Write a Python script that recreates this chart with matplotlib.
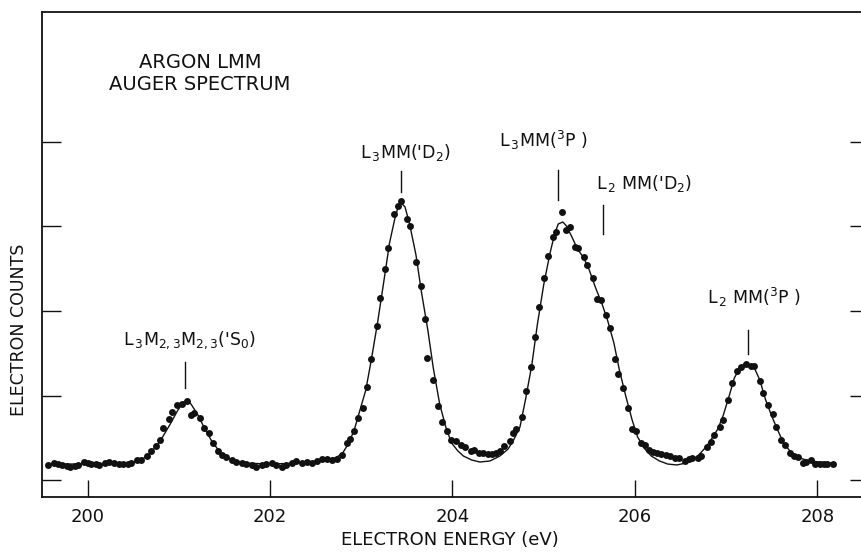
import matplotlib
matplotlib.use("Agg")
import matplotlib.pyplot as plt
from matplotlib.lines import Line2D

# ---- data (electron energy in eV, counts in arbitrary units; 100 per y tick) ----
dot_energy = [199.57, 199.63, 199.67, 199.72, 199.77, 199.81, 199.86, 199.90, 199.96, 200.00,
              200.04, 200.09, 200.13, 200.19, 200.24, 200.29, 200.34, 200.39, 200.44, 200.48,
              200.54, 200.59, 200.65, 200.69, 200.75, 200.79, 200.83, 200.89, 200.93, 200.98,
              201.03, 201.09, 201.13, 201.17, 201.23, 201.28, 201.33, 201.37, 201.43, 201.47,
              201.52, 201.58, 201.63, 201.69, 201.74, 201.80, 201.85, 201.91, 201.96, 202.02,
              202.07, 202.13, 202.18, 202.24, 202.29, 202.35, 202.40, 202.46, 202.51, 202.57,
              202.62, 202.68, 202.73, 202.79, 202.84, 202.88, 202.92, 202.96, 203.02, 203.06,
              203.11, 203.17, 203.21, 203.26, 203.29, 203.36, 203.40, 203.44, 203.50, 203.54,
              203.60, 203.65, 203.70, 203.72, 203.79, 203.84, 203.89, 203.94, 203.98, 204.04,
              204.09, 204.14, 204.20, 204.24, 204.29, 204.33, 204.39, 204.43, 204.48, 204.52,
              204.56, 204.63, 204.66, 204.70, 204.76, 204.81, 204.86, 204.91, 204.95, 205.00,
              205.05, 205.10, 205.14, 205.20, 205.24, 205.29, 205.34, 205.38, 205.44, 205.48,
              205.54, 205.58, 205.63, 205.68, 205.73, 205.78, 205.82, 205.87, 205.92, 205.97,
              206.01, 206.07, 206.11, 206.15, 206.20, 206.24, 206.29, 206.34, 206.39, 206.44,
              206.48, 206.55, 206.59, 206.63, 206.69, 206.73, 206.79, 206.83, 206.87, 206.93,
              206.97, 207.02, 207.07, 207.12, 207.16, 207.22, 207.27, 207.31, 207.37, 207.40,
              207.46, 207.51, 207.55, 207.60, 207.65, 207.70, 207.74, 207.79, 207.84, 207.88,
              207.93, 207.98, 208.03, 208.07, 208.11, 208.17]
dot_counts = [17.8, 20.1, 18.9, 17.8, 16.6, 15.4, 16.6, 17.8, 21.3, 20.1,
              18.9, 18.9, 17.8, 20.1, 21.3, 20.1, 18.9, 18.9, 18.9, 20.1,
              23.7, 23.7, 28.4, 34.3, 40.2, 47.3, 61.5, 72.2, 80.5, 88.8,
              89.9, 93.5, 76.9, 79.3, 73.4, 61.5, 55.6, 43.8, 34.3, 29.6,
              27.2, 23.7, 21.3, 20.1, 18.9, 17.8, 15.4, 17.8, 18.9, 20.1,
              17.8, 15.4, 17.8, 20.1, 22.5, 20.1, 21.3, 20.1, 22.5, 24.9,
              24.9, 23.7, 24.9, 29.6, 43.8, 48.5, 58.0, 73.4, 85.2, 110.1,
              143.2, 182.2, 215.4, 249.7, 274.5, 314.8, 324.3, 330.2, 308.9, 300.6,
              258.0, 229.6, 190.5, 144.4, 118.3, 87.6, 68.6, 58.0, 47.3, 46.2,
              41.4, 39.1, 34.3, 35.5, 32.0, 32.0, 30.8, 30.8, 32.0, 34.3,
              40.2, 46.2, 55.6, 60.4, 74.6, 105.3, 133.7, 169.2, 204.7, 239.0,
              265.1, 287.6, 293.5, 317.2, 295.9, 299.4, 275.7, 274.5, 263.9, 254.4,
              239.0, 214.2, 213.0, 195.3, 179.9, 143.2, 125.4, 108.9, 85.2, 60.4,
              58.0, 43.8, 41.4, 35.5, 33.1, 32.0, 30.8, 29.6, 28.4, 26.0,
              26.0, 22.5, 24.9, 26.0, 26.0, 28.4, 39.1, 45.0, 53.3, 62.7,
              71.0, 94.7, 114.8, 129.0, 133.7, 137.3, 134.9, 134.9, 117.2, 103.0,
              88.8, 78.1, 62.7, 47.3, 41.4, 32.0, 28.4, 27.2, 20.1, 21.3,
              23.7, 18.9, 18.9, 18.9, 18.9, 18.9]

fit_energy = [199.57, 199.91, 200.24, 200.46, 200.57, 200.68, 200.79, 200.90, 200.99, 201.05,
              201.10, 201.14, 201.21, 201.28, 201.36, 201.45, 201.56, 201.72, 202.00, 202.32,
              202.54, 202.71, 202.79, 202.85, 202.92, 202.98, 203.05, 203.11, 203.18, 203.25,
              203.31, 203.37, 203.41, 203.44, 203.48, 203.53, 203.60, 203.66, 203.73, 203.79,
              203.86, 203.93, 203.99, 204.06, 204.12, 204.21, 204.30, 204.41, 204.52, 204.61,
              204.67, 204.74, 204.80, 204.87, 204.93, 205.00, 205.07, 205.12, 205.16, 205.21,
              205.25, 205.31, 205.37, 205.44, 205.50, 205.57, 205.64, 205.70, 205.77, 205.83,
              205.90, 205.97, 206.03, 206.11, 206.18, 206.27, 206.36, 206.46, 206.56, 206.65,
              206.71, 206.78, 206.84, 206.91, 206.97, 207.04, 207.09, 207.15, 207.20, 207.26,
              207.31, 207.37, 207.43, 207.50, 207.57, 207.63, 207.70, 207.76, 207.84, 207.92,
              208.03, 208.17]
fit_counts = [18.9, 18.9, 18.9, 20.1, 22.5, 30.8, 45.0, 65.1, 82.8, 92.3,
              94.7, 88.8, 76.9, 61.5, 46.2, 33.1, 24.9, 20.1, 18.9, 20.1,
              22.5, 26.0, 30.8, 41.4, 58.0, 80.5, 106.5, 142.0, 187.0, 236.7,
              280.5, 310.1, 325.4, 327.8, 323.1, 303.0, 266.3, 222.5, 177.5, 132.5,
              89.9, 61.5, 43.8, 34.3, 28.4, 23.7, 21.3, 22.5, 28.4, 36.7,
              47.3, 62.7, 94.7, 136.1, 183.4, 230.8, 268.6, 291.1, 303.0, 305.3,
              300.6, 287.6, 273.4, 262.7, 248.5, 227.2, 208.3, 189.3, 162.1, 130.2,
              99.4, 71.0, 50.9, 36.7, 28.4, 22.5, 18.9, 17.8, 20.1, 24.9,
              30.8, 39.1, 48.5, 60.4, 76.9, 101.8, 120.7, 132.5, 137.3, 136.1,
              132.5, 118.3, 95.9, 75.7, 58.0, 43.8, 34.3, 28.4, 24.9, 22.5,
              21.3, 20.1]

x_ticks = [200, 202, 204, 206, 208]
x_ticklabels = ["200", "202", "204", "206", "208"]
y_ticks = [0, 100, 200, 300, 400]

# peak labels: text, energy of marker line, line bottom/top, label position
peak_labels = [r"L$_{\,3}$M$_{2,3}$M$_{2,3}$('S$_0$)",
               r"L$_{\,3}$MM('D$_2$)",
               r"L$_{\,3}$MM($^3$P )",
               r"L$_{\,2}$ MM('D$_2$)",
               r"L$_{\,2}$ MM($^3$P )"]
peak_marker_energy = [201.07, 203.44, 205.16, 205.65, 207.24]
peak_marker_low = [108.9, 340.8, 331.4, 291.1, 149.1]
peak_marker_high = [139.6, 365.7, 366.9, 325.4, 177.5]
label_energy = [201.12, 203.48, 204.99, 206.10, 207.31]
label_counts = [165.7, 388.0, 402.0, 351.0, 216.6]

title_lines = ["ARGON LMM", "AUGER SPECTRUM"]

# ---- figure ----
FONT = ["DejaVu Sans"]
plt.rcParams["font.family"] = FONT
plt.rcParams["mathtext.fontset"] = "custom"
plt.rcParams["mathtext.rm"] = "DejaVu Sans"
plt.rcParams["mathtext.it"] = "DejaVu Sans"
plt.rcParams["mathtext.default"] = "regular"

INK = "#111111"
fig = plt.figure(figsize=(8.62, 5.52), dpi=100)
ax = fig.add_axes([42 / 862, 1 - 497 / 552, 1 - 42 / 862, (497 - 12) / 552])

ax.set_xlim(199.5, 208.49)
ax.set_ylim(-20.1, 553.8)

ax.plot(fit_energy, fit_counts, color=INK, lw=1.0, zorder=2)
ax.plot(dot_energy, dot_counts, "o", color=INK, ms=5.0, mec=INK, mew=0, zorder=3)

for t, xe, lo, hi, lx, ly in zip(peak_labels, peak_marker_energy, peak_marker_low,
                                 peak_marker_high, label_energy, label_counts):
    ax.add_line(Line2D([xe, xe], [lo, hi], color=INK, lw=1.0))
    ax.text(lx, ly, t, ha="center", va="center", fontsize=12.5, color=INK)

ax.text(201.23, 494, title_lines[0], ha="center", va="center", fontsize=14, color=INK)
ax.text(201.23, 468, title_lines[1], ha="center", va="center", fontsize=14, color=INK)

for s in ["left", "top", "bottom"]:
    ax.spines[s].set_linewidth(1.3)
    ax.spines[s].set_color(INK)
ax.spines["right"].set_visible(False)

ax.set_xticks(x_ticks)
ax.set_xticklabels(x_ticklabels)
ax.set_yticks(y_ticks)
ax.set_yticklabels([])
ax.tick_params(axis="x", direction="in", length=12, width=1.0, colors=INK,
               labelsize=13, pad=8, top=False)
ax.tick_params(axis="y", direction="in", length=14, width=1.0, colors=INK,
               left=True, right=True)
for t in ax.yaxis.get_major_ticks():
    t.tick2line.set_markersize(9)

fig.text(450 / 862, 1 - 540 / 552, "ELECTRON ENERGY (eV)", ha="center", va="center",
         fontsize=13, color=INK)
fig.text(19 / 862, 1 - 330 / 552, "ELECTRON COUNTS", ha="center", va="center",
         rotation=90, fontsize=12.5, color=INK)

fig.savefig("out.png", dpi=100)
